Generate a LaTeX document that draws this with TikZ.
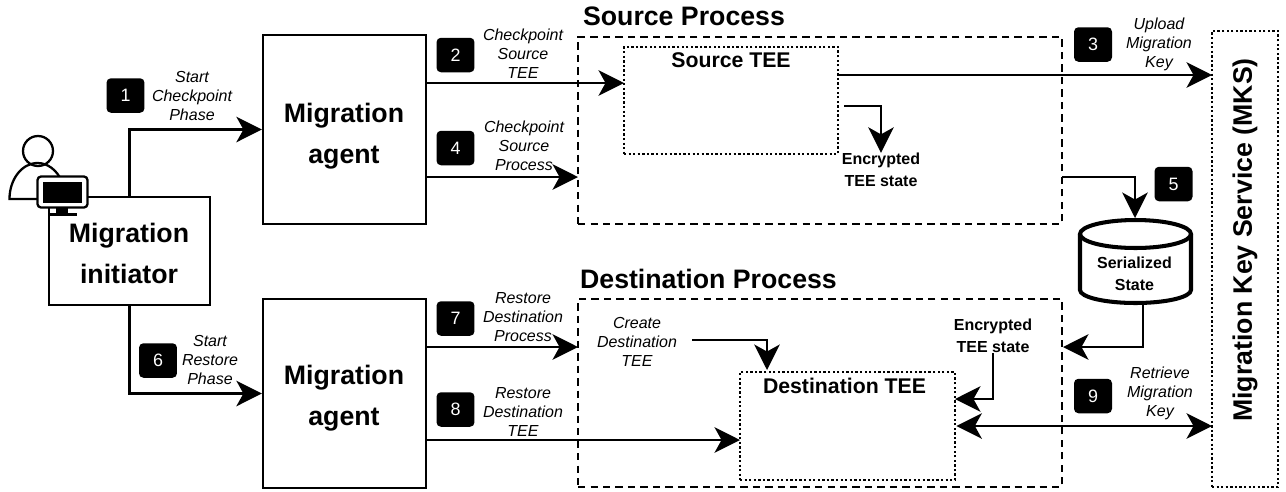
\documentclass[tikz,border=0pt]{standalone}
\usepackage{fontspec}
\setmainfont{Liberation Sans}
\usepackage{tikz}
\usetikzlibrary{arrows.meta}
\tikzstyle{agentbox} = [draw, line width=1.3pt, inner sep=0pt]
\tikzstyle{agenttext} = [inner sep=0pt, align=center, font=\fontsize{15.2}{23.3}\selectfont\bfseries]
\tikzstyle{processbox} = [draw, line width=1.5pt, dash pattern=on 4.2pt off 2.9pt, inner sep=0pt]
\tikzstyle{teebox} = [draw, line width=1.6pt, dash pattern=on 1.3pt off 1.3pt, inner sep=0pt]
\tikzstyle{badge} = [fill=black, text=white, rounded corners=2.5pt, minimum width=0.76cm, minimum height=0.69cm, inner sep=0pt, font=\fontsize{10.2}{12}\selectfont]
\tikzstyle{steptext} = [inner sep=0pt, align=center, font=\fontsize{9.1}{10.8}\selectfont\itshape]
\tikzstyle{boldtext} = [inner sep=0pt, align=center, font=\fontsize{9.1}{12.5}\selectfont\bfseries]
\tikzstyle{titletext} = [inner sep=0pt, font=\fontsize{15.2}{18}\selectfont\bfseries]
\tikzstyle{teetext} = [inner sep=0pt, font=\fontsize{12.1}{14}\selectfont\bfseries]
\tikzstyle{flow} = [line width=1.3pt, -{Stealth[length=14.5pt, width=14.5pt, inset=4pt]}]
\tikzstyle{bothflow} = [line width=1.3pt, {Stealth[length=14.5pt, width=14.5pt, inset=4pt]}-{Stealth[length=14.5pt, width=14.5pt, inset=4pt]}]

\begin{document}
\begin{tikzpicture}[x=0.02cm, y=-0.02cm]
	\useasboundingbox (0,0) rectangle (1286,491);

	\node [agentbox, minimum width=3.22cm, minimum height=2.16cm] (initiator) at (129.5,251) {};
	\node [agentbox, minimum width=3.26cm, minimum height=3.78cm] (agentsrc) at (344.5,129.5) {};
	\node [agentbox, minimum width=3.26cm, minimum height=3.78cm] (agentdst) at (344.5,393.5) {};
	\node [agenttext] (initiatortext) at (129,253) {Migration\\initiator};
	\node [agenttext] (agentsrctext) at (344,136) {Migration\\agent};
	\node [agenttext] (agentdsttext) at (344,398) {Migration\\agent};
	\node [processbox, minimum width=9.68cm, minimum height=3.74cm] (procsrc) at (820,130.5) {};
	\node [processbox, minimum width=9.68cm, minimum height=3.76cm] (procdst) at (820,393) {};
	\node [teebox, minimum width=4.28cm, minimum height=2.14cm] (teesrc) at (731,100.5) {};
	\node [teebox, minimum width=4.30cm, minimum height=2.16cm] (teedst) at (847.5,426) {};
	\node [teebox, minimum width=1.32cm, minimum height=9.12cm] (mks) at (1245,259) {};

	\node [inner sep=0pt, outer sep=0pt, minimum width=2.28cm, minimum height=1.74cm] (state) at (1135,261.5) {};
	\draw [line width=2.3pt] (1080,234) -- (1080,290) arc [start angle=180, end angle=360, x radius=1.11cm, y radius=0.26cm] -- (1191,234);
	\draw [line width=2.3pt] (1135.5,234) ellipse [x radius=1.11cm, y radius=0.28cm];

	\node [titletext] (titlesrc) at (684,16) {Source Process};
	\node [titletext] (titledst) at (708.5,279) {Destination Process};
	\node [teetext] (labelsrc) at (731,60) {Source TEE};
	\node [teetext] (labeldst) at (844.5,386) {Destination TEE};
	\node [titletext, rotate=90] (labelmks) at (1245,240) {Migration Key Service (MKS)};
	\node [boldtext] (statetext) at (1134.5,274) {Serialized\\State};
	\node [boldtext] (encsrc) at (881,170) {Encrypted\\TEE state};
	\node [boldtext] (encdst) at (993,336) {Encrypted\\TEE state};
	\node [steptext] (create) at (637,342) {Create\\Destination\\TEE};

	\node [badge] (badgeA) at (125.5,95.5) {1};
	\node [badge] (badgeB) at (455.5,55) {2};
	\node [badge] (badgeC) at (1093,44.5) {3};
	\node [badge] (badgeD) at (455.5,148) {4};
	\node [badge] (badgeE) at (1173.5,184) {5};
	\node [badge] (badgeF) at (158,360.5) {6};
	\node [badge] (badgeG) at (455.5,318.5) {7};
	\node [badge] (badgeH) at (455.5,409.5) {8};
	\node [badge] (badgeI) at (1093,396) {9};

	\node [steptext] (textA) at (192,96) {Start\\Checkpoint\\Phase};
	\node [steptext] (textB) at (523,54) {Checkpoint\\Source\\TEE};
	\node [steptext] (textC) at (1159,44) {Upload\\Migration\\Key};
	\node [steptext] (textD) at (524,146) {Checkpoint\\Source\\Process};
	\node [steptext] (textF) at (210,360) {Start\\Restore\\Phase};
	\node [steptext] (textG) at (523,317) {Restore\\Destination\\Process};
	\node [steptext] (textH) at (523,412) {Restore\\Destination\\TEE};
	\node [steptext] (textI) at (1160,393) {Retrieve\\Migration\\Key};

	\coordinate (inB) at (624,83);
	\coordinate (inC) at (1212,75);
	\coordinate (inD) at (578,177);
	\coordinate (outE) at (1062,177);
	\coordinate (outstate) at (1143,305);
	\coordinate (indst) at (1063,347);
	\coordinate (inG) at (578,347);
	\coordinate (inH) at (740,440);
	\coordinate (increate) at (767,370);
	\coordinate (inenc) at (955,399);
	\coordinate (inmks) at (1212,426);
	\coordinate (outcreate) at (692,340);
	\coordinate (outenc) at (844,106);

	\draw [flow] (initiator.north) |- (agentsrc.west);
	\draw [flow] (initiator.south) |- (agentdst.west);
	\draw [flow] (agentsrc.east |- inB) -- (inB);
	\draw [flow] (teesrc.east |- inC) -- (inC);
	\draw [flow] (agentsrc.east |- inD) -- (inD);
	\draw [flow] (outenc) -| (encsrc.north);
	\draw [flow] (outE) -| (state.north);
	\draw [flow] (outstate) |- (indst);
	\draw [flow] (agentdst.east |- inG) -- (inG);
	\draw [flow] (agentdst.east |- inH) -- (inH);
	\draw [flow] (outcreate) -| (increate);
	\draw [flow] (encdst.south) |- (inenc);
	\draw [bothflow] (teedst.east |- inmks) -- (inmks);

	\node [draw, circle, line width=1.3pt, minimum size=0.6cm, inner sep=0pt] (head) at (38,151) {};
	\draw [line width=1.3pt] (37,199) -- (9.5,199) arc [start angle=180, end angle=30, x radius=0.56cm, y radius=0.72cm];
	\node [draw, fill=white, line width=1.3pt, rounded corners=2pt, minimum width=1.0cm, minimum height=0.62cm, inner sep=0pt] (monitor) at (62.5,192) {};
	\node [fill=black, minimum width=0.8cm, minimum height=0.42cm, inner sep=0pt] (screen) at (monitor.center) {};
	\node [fill=black, minimum width=0.26cm, minimum height=0.12cm, inner sep=0pt] (stand) at (62,210.5) {};
	\node [fill=black, minimum width=0.56cm, minimum height=0.06cm, inner sep=0pt] (base) at (63.5,214.5) {};
\end{tikzpicture}
\end{document}
